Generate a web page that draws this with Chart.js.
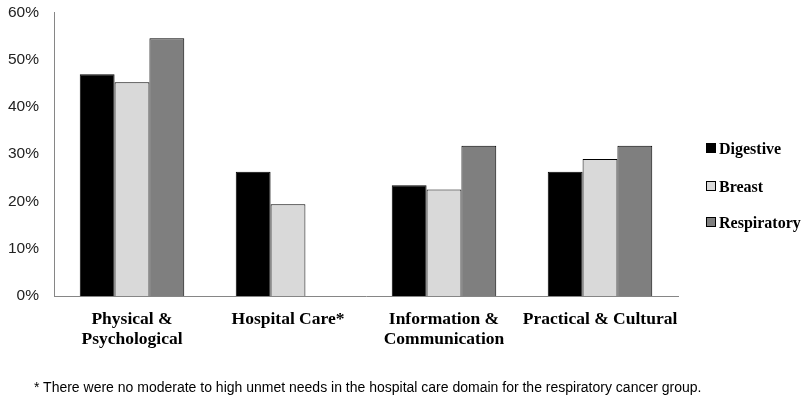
<!DOCTYPE html>
<html>
<head>
<meta charset="utf-8">
<script src="https://cdn.jsdelivr.net/npm/chart.js@4.4.1/dist/chart.umd.min.js"></script>
<style>
    html, body { margin: 0; padding: 0; background: #fff; }
    #wrap { position: relative; width: 802px; height: 398px; overflow: hidden; }
    #chart { position: absolute; left: 0; top: -4px; }
    .legend { position: absolute; left: 706px; font: bold 16px "Liberation Serif", "Times New Roman", serif; color: #000; }
    .legend .box { display: inline-block; width: 8px; height: 8px; border: 1px solid #000; margin-right: 3px; vertical-align: 1px; }
    #note { position: absolute; left: 34px; top: 379px; font: 14px "Liberation Sans", Arial, sans-serif; color: #000; white-space: nowrap; }
</style>
</head>
<body>
<div id="wrap">
    <canvas id="chart" width="802" height="402"></canvas>
    <div id="legend"></div>
    <div id="note">* There were no moderate to high unmet needs in the hospital care domain for the respiratory cancer group.</div>
</div>
<script>
    // Domains and unmet-need percentages per cancer group
    var categories = [
        ['Physical &', 'Psychological'],
        'Hospital Care*',
        ['Information &', 'Communication'],
        'Practical & Cultural'
    ];
    var seriesNames = ['Digestive', 'Breast', 'Respiratory'];
    var digestive = [46.9, 26.3, 23.4, 26.3];
    var breast = [45.2, 19.4, 22.5, 29.0];
    var respiratory = [54.5, null, 31.8, 31.8];
    var yTicks = [0, 10, 20, 30, 40, 50, 60];

    var colors = ['#000000', '#d9d9d9', '#7f7f7f'];
    var legendTops = [140, 178, 214];

    var ctx = document.getElementById('chart').getContext('2d');

    var chart = new Chart(ctx, {
        type: 'bar',
        data: {
            labels: categories,
            datasets: [digestive, breast, respiratory].map(function (values, i) {
                return {
                    label: seriesNames[i],
                    data: values,
                    backgroundColor: colors[i],
                    borderColor: '#000',
                    borderWidth: 1,
                    categoryPercentage: 0.67,
                    barPercentage: 1.0
                };
            })
        },
        options: {
            responsive: false,
            animation: false,
            layout: { padding: { top: 0, right: 124, left: 0, bottom: 0 } },
            plugins: {
                legend: { display: false },
                tooltip: { enabled: false }
            },
            scales: {
                x: {
                    grid: { display: false },
                    border: { display: true, color: '#868686', width: 1 },
                    afterFit: function (scale) { scale.height = 102; },
                    ticks: {
                        color: '#000',
                        maxRotation: 0,
                        autoSkip: false,
                        padding: 5,
                        font: { family: '"Liberation Serif", "Times New Roman", serif', size: 17.5, weight: 'bold', lineHeight: 1.15 }
                    }
                },
                y: {
                    min: 0,
                    max: 60,
                    grid: { display: false },
                    border: { display: true, color: '#868686', width: 1 },
                    afterFit: function (scale) { scale.width = 54; },
                    afterBuildTicks: function (scale) {
                        scale.ticks = yTicks.map(function (v) { return { value: v }; });
                    },
                    ticks: {
                        color: '#222',
                        padding: 7,
                        font: { family: '"Liberation Sans", Arial, sans-serif', size: 15.5 },
                        callback: function (v) { return v + '%'; }
                    }
                }
            }
        }
    });

    // legend drawn as html on the right
    var legendEl = document.getElementById('legend');
    seriesNames.forEach(function (name, i) {
        var item = document.createElement('div');
        item.className = 'legend';
        item.style.top = legendTops[i] + 'px';
        item.innerHTML = '<span class="box" style="background:' + colors[i] + '"></span>' + name;
        legendEl.appendChild(item);
    });
</script>
</body>
</html>
